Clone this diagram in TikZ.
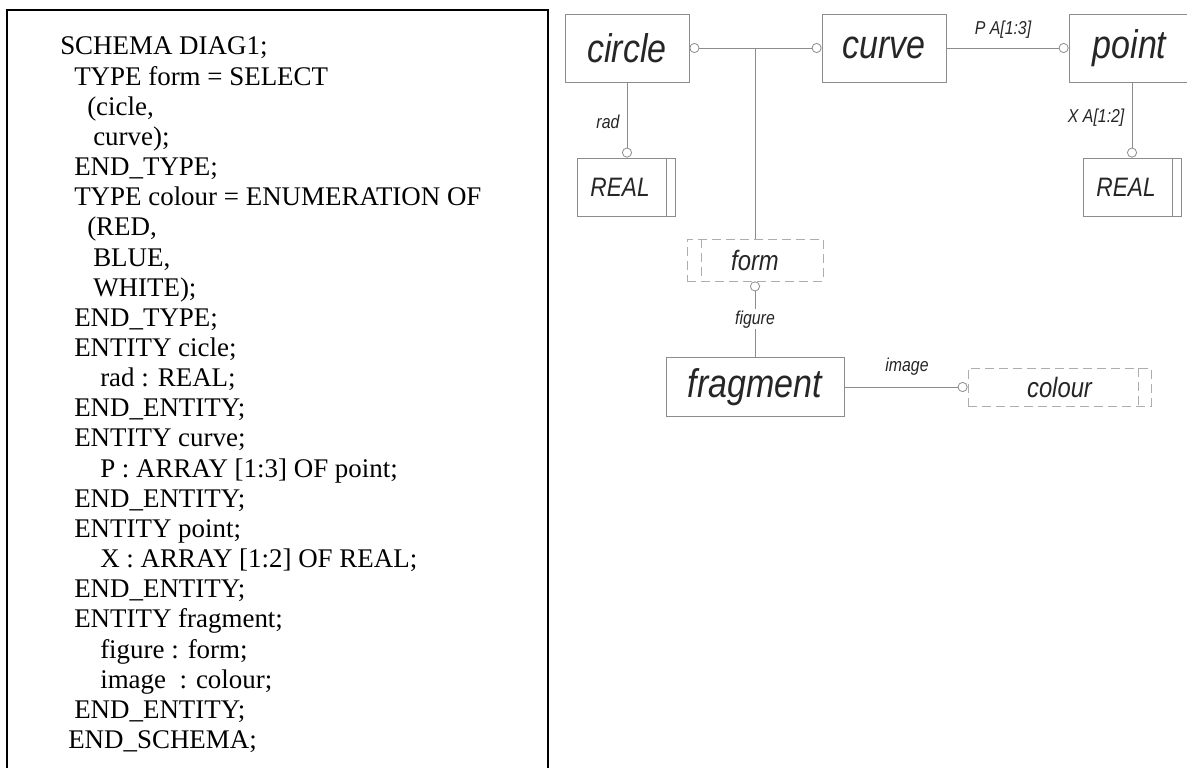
\documentclass[tikz,border=0pt]{standalone}
\usepackage{fontspec}
\setmainfont{Liberation Serif}
\newfontfamily\isofont[FakeStretch=0.85]{Liberation Sans}
\usetikzlibrary{arrows.meta}
\definecolor{linegray}{gray}{0.55}
\definecolor{dashgray}{gray}{0.68}
\definecolor{textgray}{gray}{0.15}
\tikzset{
  codeline/.style={anchor=base west, inner sep=0pt, font=\fontsize{20.2}{20.2}\selectfont},
  entity/.style={draw=linegray, line width=0.6pt, inner sep=0pt, text=textgray,
    font=\isofont\itshape\fontsize{30}{30}\selectfont},
  realbox/.style={entity, minimum width=73.5pt, minimum height=43.5pt,
    font=\isofont\itshape\fontsize{20}{20}\selectfont},
  selbox/.style={entity, draw=dashgray, dash pattern=on 7pt off 3.5pt,
    font=\isofont\itshape\fontsize{21}{21}\selectfont},
  link/.style={draw=linegray, line width=0.6pt},
  oc/.tip={Circle[open, length=7.5pt]},
  lbl/.style={inner sep=1pt, text=textgray, font=\isofont\itshape\fontsize{14}{14}\selectfont}
}
\begin{document}
\begin{tikzpicture}[x=0.75pt, y=-0.75pt]
    \useasboundingbox (0,0) rectangle (1187,767);

    % schema text
    \draw[line width=1.5pt] (7,775) -- (7,10.5) -- (548,10.5) -- (548,775);
    \foreach \ind/\txt [count=\i] in {
        60/{SCHEMA DIAG1;}, 74/{TYPE form = SELECT}, 87/{(cicle,}, 93/{curve);},
        74/{END\_TYPE;}, 74/{TYPE colour = ENUMERATION OF}, 87/{(RED,}, 93/{BLUE,},
        93/{WHITE);}, 74/{END\_TYPE;}, 74/{ENTITY cicle;}, 100/{rad : REAL;},
        74/{END\_ENTITY;}, 74/{ENTITY curve;}, 100/{P : ARRAY [1:3] OF point;},
        74/{END\_ENTITY;}, 74/{ENTITY point;}, 100/{X : ARRAY [1:2] OF REAL;},
        74/{END\_ENTITY;}, 74/{ENTITY fragment;}, 100/{figure : form;},
        100/{image~ : colour;}, 74/{END\_ENTITY;}, 68/{END\_SCHEMA;}}
        \node[codeline] (line\i) at (\ind, {55+30.15*(\i-1)}) {\txt};

    % diagram
    \node[entity, minimum width=93pt, minimum height=51pt] (circ) at (627,48) {circle}; %circle
    \node[entity, minimum width=93pt, minimum height=51pt] (curve) at (884,48) {curve}; %curve
    \node[entity, minimum width=90.75pt, minimum height=51pt] (point) at (1129.5,48) {point}; %point
    \node[realbox] (realA) at (626,187) {\hspace*{-9pt}REAL}; %REAL
    \node[realbox] (realB) at (1132,187) {\hspace*{-9pt}REAL}; %REAL
    \node[selbox, minimum width=102pt, minimum height=31.5pt] (form) at (755,260) {form}; %form
    \node[entity, minimum width=133.5pt, minimum height=44.25pt] (frag) at (755,387) {fragment}; %fragment
    \node[selbox, minimum width=137.25pt, minimum height=28.5pt] (colour) at (1059.5,387) {colour}; %colour

    \draw[link] ([xshift=-6.75pt]realA.north east) -- ([xshift=-6.75pt]realA.south east);
    \draw[link] ([xshift=-6.75pt]realB.north east) -- ([xshift=-6.75pt]realB.south east);
    \draw[link, draw=dashgray, dash pattern=on 7pt off 3.5pt] ([xshift=11.25pt]form.north west) -- ([xshift=11.25pt]form.south west);
    \draw[link, draw=dashgray, dash pattern=on 7pt off 3.5pt] ([xshift=-9.75pt]colour.north east) -- ([xshift=-9.75pt]colour.south east);

    \draw[link, oc-oc] (circ) -- (curve);
    \draw[link] (form.north |- circ.east) -- (form.north);
    \draw[link, -oc] (curve) -- (point);
    \draw[link, -oc] (circ.south) -- (circ.south |- realA.north);
    \draw[link, -oc] (realB.north |- point.south) -- (realB.north);
    \draw[link, oc-] (form.south) -- (frag.north) node[lbl, midway, fill=white] (figlbl) {figure};
    \draw[link, -oc] (frag.east) -- (colour.west);

    \node[lbl, anchor=east] (radlbl) at (621,122) {rad};
    \node[lbl] (plbl) at (1003,30) {P A[1:3]};
    \node[lbl, anchor=east] (xlbl) at (1126,118) {X A[1:2]};
    \node[lbl] (imglbl) at (907,367) {image};
\end{tikzpicture}
\end{document}
